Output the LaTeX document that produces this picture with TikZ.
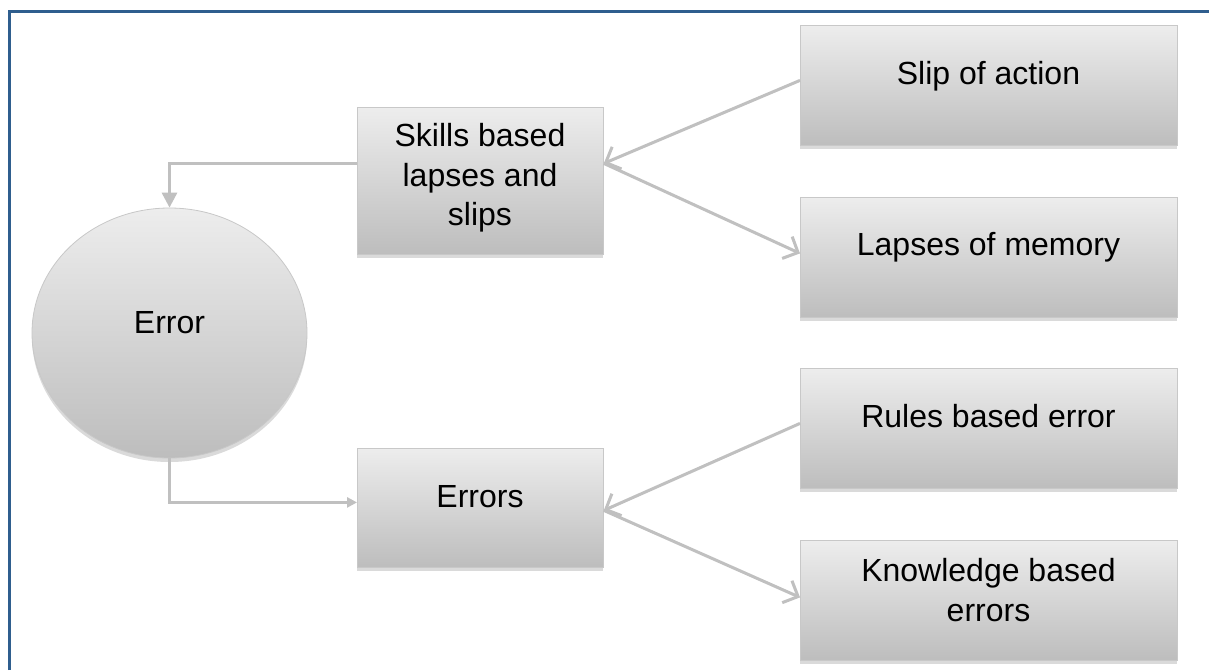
\documentclass[tikz,border=0pt]{standalone}
\usepackage{fontspec}
\setmainfont{Liberation Sans}
\usetikzlibrary{arrows.meta,shapes.geometric}
\definecolor{frameblue}{HTML}{2F5E8E}
\definecolor{boxtop}{HTML}{EDEDED}
\definecolor{boxbot}{HTML}{BDBDBD}
\definecolor{boxline}{HTML}{C8C8C8}
\definecolor{shadowc}{HTML}{DADADA}
\definecolor{connc}{HTML}{C0C0C0}
\begin{document}
\begin{tikzpicture}[x=1pt,y=-1pt,
  shaded/.style={draw=boxline, line width=0.8pt, top color=boxtop, bottom color=boxbot,
    inner sep=0pt, preaction={fill=shadowc, transform canvas={yshift=-4pt}}},
  box/.style={shaded, rectangle, anchor=north west},
  oval/.style={shaded, ellipse},
  lbl/.style={font=\fontsize{32}{40}\selectfont, text height=23pt, text depth=7pt, inner sep=0pt},
  mlbl/.style={font=\fontsize{32}{39.5}\selectfont, align=center, inner sep=0pt},
  conn/.style={draw=connc, line width=3pt},
  openarrow/.style={conn, -{Straight Barb[length=12pt,width=24pt]}}
]
\useasboundingbox (0,0) rectangle (1209,670);
\fill[white] (0,0) rectangle (1209,670);
% frame
\draw[frameblue, line width=3pt] (9,670) -- (9,11) -- (1209,11);

% boxes
\node[box, minimum width=246pt, minimum height=147pt] (skills) at (357,107) {};
\node[box, minimum width=246pt, minimum height=119pt] (errors) at (357,448) {};
\node[box, minimum width=377pt, minimum height=120pt] (slip) at (800,25) {};
\node[box, minimum width=377pt, minimum height=120pt] (lapses) at (800,197) {};
\node[box, minimum width=377pt, minimum height=120pt] (rules) at (800,368) {};
\node[box, minimum width=377pt, minimum height=120pt] (know) at (800,540) {};
\node[oval, minimum width=275pt, minimum height=250pt] (error) at (169.5,333) {};

% labels
\node[mlbl] (tskills) at (480,178) {Skills based\\lapses and\\slips};
\node[lbl] (terrors) at (480,499) {Errors};
\node[lbl] (tslip) at (988.5,76) {Slip of action};
\node[lbl] (tlapses) at (988.5,247) {Lapses of memory};
\node[lbl] (trules) at (988.5,419) {Rules based error};
\node[mlbl] (tknow) at (988.5,590) {Knowledge based\\errors};
\node[lbl] (terror) at (169.5,325) {Error};

% connectors
\draw[conn, -{Triangle[length=15pt,width=15pt]}] ([yshift=17.5pt]skills.west) -| (error.north);
\draw[conn, -{Triangle[length=10pt,width=10pt]}] (error.south) |- ([yshift=5.5pt]errors.west);
\draw[openarrow] ([yshift=5pt]slip.west) -- ([yshift=17.5pt]skills.east);
\draw[openarrow] ([yshift=17.5pt]skills.east) -- ([yshift=4pt]lapses.west);
\draw[openarrow] ([yshift=5pt]rules.west) -- ([yshift=-2.5pt]errors.east);
\draw[openarrow] ([yshift=-2.5pt]errors.east) -- ([yshift=3pt]know.west);
\end{tikzpicture}
\end{document}
